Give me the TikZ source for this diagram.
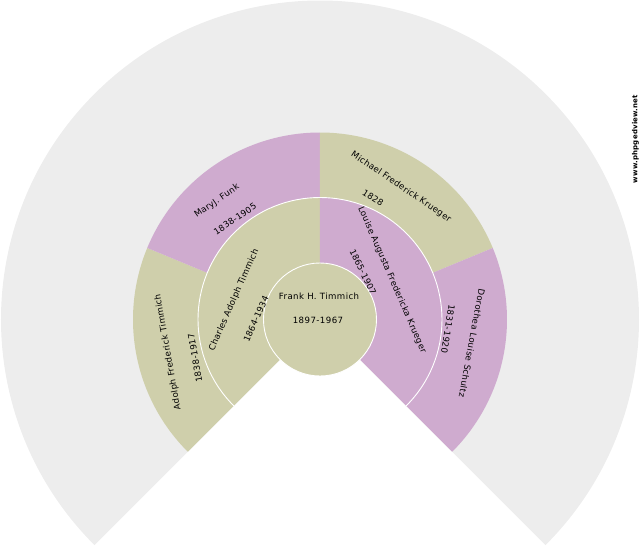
\documentclass[tikz,border=0pt]{standalone}
\usepackage{fontspec}
\setmainfont{DejaVu Sans}
\definecolor{fanbeige}{HTML}{CFCFAB}
\definecolor{fanmauve}{HTML}{CFABCF}
\definecolor{fangrey}{HTML}{EDEDED}
\tikzset{
  personlabel/.style={font=\fontsize{8.6}{10}\selectfont\addfontfeatures{LetterSpace=3.5},text=black,inner sep=0pt},
  centrelabel/.style={font=\fontsize{8.6}{10}\selectfont\addfontfeatures{LetterSpace=5},text=black,inner sep=0pt},
  sitelabel/.style={font=\fontsize{7}{8}\bfseries\selectfont\addfontfeatures{LetterSpace=3},inner sep=0pt},
  ringline/.style={draw=white,line width=0.9pt}
}
\begin{document}
\begin{tikzpicture}[x=1pt,y=1pt]
    \useasboundingbox (-320,-230.5) rectangle (320,319.5);
    % empty outer fan
    \fill[fangrey] (0,0) -- (225:319) arc (225:-45:319) -- cycle;
    % third ring
    \fill[fanbeige] (225:122) arc (225:157.5:122) -- (157.5:187) arc (157.5:225:187) -- cycle;% father's father
    \fill[fanmauve] (157.5:122) arc (157.5:90:122) -- (90:187) arc (90:157.5:187) -- cycle;% father's mother
    \fill[fanbeige] (90:122) arc (90:22.5:122) -- (22.5:187) arc (22.5:90:187) -- cycle;% mother's father
    \fill[fanmauve] (22.5:122) arc (22.5:-45:122) -- (-45:187) arc (-45:22.5:187) -- cycle;% mother's mother
    % second ring
    \fill[fanbeige] (225:56) arc (225:90:56) -- (90:122) arc (90:225:122) -- cycle;% father
    \fill[fanmauve] (90:56) arc (90:-45:56) -- (-45:122) arc (-45:90:122) -- cycle;% mother
    \draw[ringline] (225:122) arc (225:-45:122);
    % centre
    \fill[fanbeige,ringline] (0,0) circle (56.5);
    % labels
    \node[centrelabel] (frank) at (-1,23.5) {Frank H. Timmich};
    \node[centrelabel] (frankyears) at (-2,-0.5) {1897-1967};
    \node[personlabel,rotate=66] (charles) at (-86,19.5) {Charles Adolph Timmich};
    \node[personlabel,rotate=66] (charlesyears) at (-64,0.5) {1864-1934};
    \node[personlabel,rotate=-66.5] (louise) at (72,39.5) {Louise Augusta Fredericka Krueger};
    \node[personlabel,rotate=-64] (louiseyears) at (43,47.5) {1865-1907};
    \node[personlabel,rotate=35] (mary) at (-103,118.5) {MaryJ. Funk};
    \node[personlabel,rotate=34] (maryyears) at (-85,100.5) {1838-1905};
    \node[personlabel,rotate=-34] (michael) at (81,132.5) {Michael Frederick Krueger};
    \node[personlabel,rotate=-33] (michaelyears) at (53,121.5) {1828};
    \node[personlabel,rotate=100] (adolph) at (-152,-32.5) {Adolph Frederick Timmich};
    \node[personlabel,rotate=100] (adolphyears) at (-125,-38.5) {1838-1917};
    \node[personlabel,rotate=-100.5] (dorothea) at (152,-23.5) {Dorothea Louise Schultz};
    \node[personlabel,rotate=-99] (dorotheayears) at (128,-9.5) {1831-1920};
    \node[sitelabel,rotate=90] (site) at (315.5,180.5) {www.phpgedview.net};
  \end{tikzpicture}
\end{document}
